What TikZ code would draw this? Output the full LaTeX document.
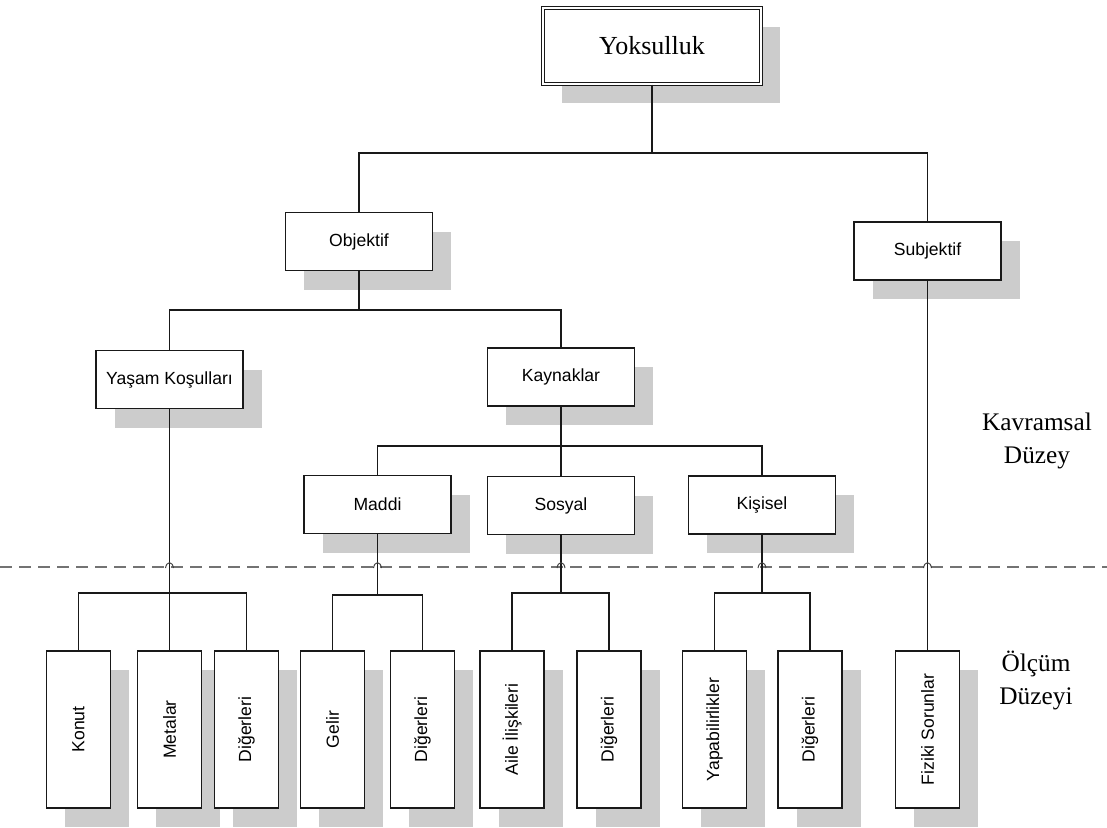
\documentclass[tikz,border=0pt]{standalone}
\usepackage{fontspec}
\setmainfont{Liberation Serif}
\setsansfont{Liberation Sans}
\usetikzlibrary{shadows}

\begin{document}
\begin{tikzpicture}[x=0.025cm, y=-0.025cm,
    golge/.style={drop shadow={shadow xshift=0.47cm, shadow yshift=-0.48cm, fill=black!20, draw=none, opacity=1}},
    kutu/.style={draw=black!90, line width=1.1pt, fill=white, inner sep=0pt, golge,
      minimum width=3.68cm, minimum height=1.45cm, font=\sffamily\fontsize{12.5}{15}\selectfont},
    dikey/.style={kutu, minimum width=1.6cm, minimum height=3.92cm},
    ana/.style={kutu, double, line width=0.9pt, double distance=1.4pt,
      minimum width=5.45cm, minimum height=1.9cm, font=\rmfamily\fontsize{18.5}{22}\selectfont},
    seviye/.style={align=center, font=\rmfamily\fontsize{18}{23.5}\selectfont},
    baglanti/.style={draw=black!90, line width=1.1pt}]
  \useasboundingbox (0,0) rectangle (1107,828);

  % kavramsal duzey
  \node[ana] (yok) at (652,46) {Yoksulluk};
  \node[kutu] (obj) at (359,241.5) {Objektif};
  \node[kutu] (sub) at (927.5,251) {Subjektif};
  \node[kutu] (yas) at (169.5,379.5) {Yaşam Koşulları};
  \node[kutu] (kay) at (561,377) {Kaynaklar};
  \node[kutu] (mad) at (377.5,504.5) {Maddi};
  \node[kutu] (sos) at (561,505.5) {Sosyal};
  \node[kutu] (kis) at (762,505) {Kişisel};

  % olcum duzeyi
  \foreach \ad/\xx/\yazi in {kon/78.5/Konut, met/169.5/Metalar, dig1/246.5/Diğerleri,
      gel/332.5/Gelir, dig2/422.5/Diğerleri, ail/512/Aile İlişkileri, dig3/609/Diğerleri,
      yap/714.5/Yapabilirlikler, dig4/810/Diğerleri, fiz/927.5/Fiziki Sorunlar}{
    \node[dikey] (\ad) at (\xx,729.5) {\rotatebox{90}{\yazi}};
  }

  \node[seviye] (kav) at (1037,441) {Kavramsal\\Düzey};
  \node[seviye] (olc) at (1036,680) {Ölçüm\\Düzeyi};

  \draw[draw=black!55, line width=2pt, dash pattern=on 0.3cm off 0.175cm] (0,567) -- (1107,567);

  \coordinate (d1) at (652,153);
  \coordinate (d2) at (359,310);
  \coordinate (d3) at (561,446);
  \coordinate (d4) at (169.5,593);
  \coordinate (d5) at (377.5,595);
  \coordinate (d6) at (561,593);
  \coordinate (d7) at (762,593);

  \draw[baglanti] (yok) -- (d1);
  \draw[baglanti] (obj.north) |- (d1) -| (sub.north);
  \draw[baglanti] (obj) -- (d2);
  \draw[baglanti] (yas.north) |- (d2) -| (kay.north);
  \draw[baglanti] (kay) -- (d3) -- (sos);
  \draw[baglanti] (mad.north) |- (d3) -| (kis.north);
  \draw[baglanti] (sub) -- (fiz);
  \draw[baglanti] (yas) -- (met);
  \draw[baglanti] (kon.north) |- (d4) -| (dig1.north);
  \draw[baglanti] (mad) -- (d5);
  \draw[baglanti] (gel.north) |- (d5) -| (dig2.north);
  \draw[baglanti] (sos) -- (d6);
  \draw[baglanti] (ail.north) |- (d6) -| (dig3.north);
  \draw[baglanti] (kis) -- (d7);
  \draw[baglanti] (yap.north) |- (d7) -| (dig4.north);

  \foreach \xx in {169.5,377.5,561,762,927.5}
    \draw[black!75, line width=0.7pt] (\xx-4,568) .. controls (\xx-3,561) and (\xx+3,561) .. (\xx+4,568);
\end{tikzpicture}
\end{document}
